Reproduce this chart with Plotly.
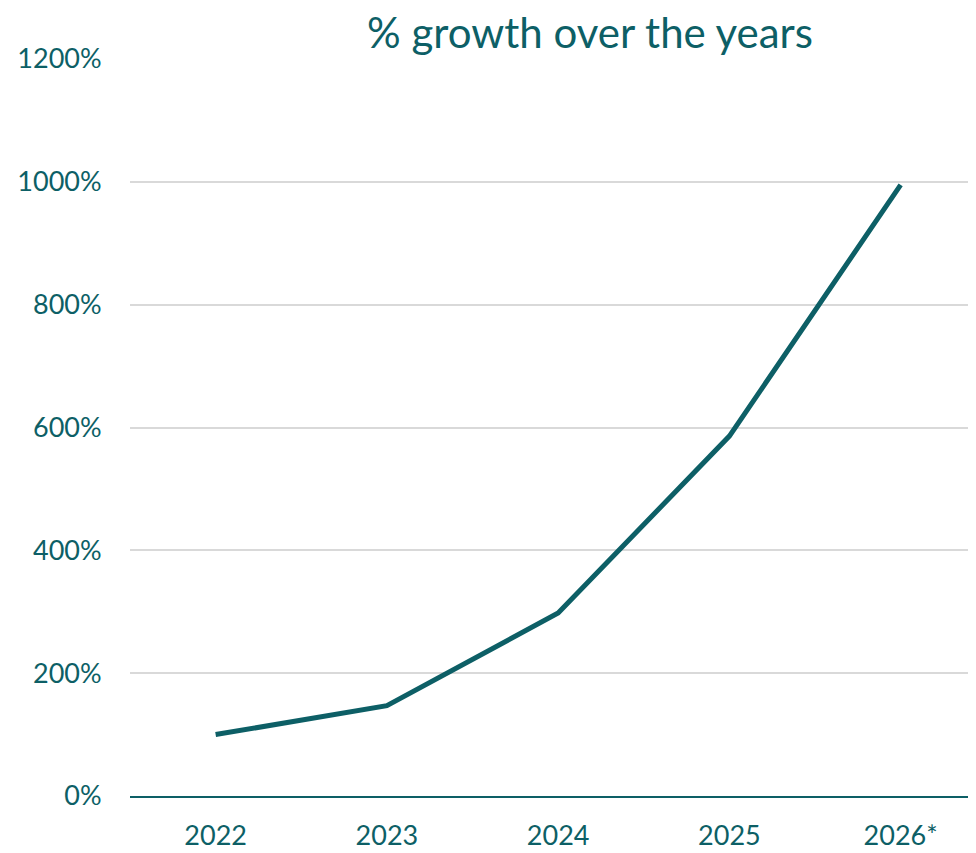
import plotly.graph_objects as go

years = ["2022", "2023", "2024", "2025", "2026*"]
growth = [100, 147, 298, 586, 995]
y_ticks = [0, 200, 400, 600, 800, 1000, 1200]
y_tick_labels = ["0%", "200%", "400%", "600%", "800%", "1000%", "1200%"]

teal = "#0d5f66"
grid = "#d9d9d9"
font_family = "Lato, 'Open Sans', sans-serif"

# page has an 8px body margin; figure sized to fill the rest of the window
W, H = 968, 845

fig = go.Figure()
fig.add_trace(go.Scatter(
    x=years, y=growth, mode="lines",
    line=dict(color=teal, width=5),
    hoverinfo="skip",
))

fig.update_layout(
    width=W, height=H,
    margin=dict(l=122, r=0, t=51, b=57),
    paper_bgcolor="white", plot_bgcolor="white",
    showlegend=False,
    font=dict(family=font_family, color=teal),
    title=dict(
        text="% growth over the years",
        x=582 / W, xanchor="center",
        y=1 - 25 / H, yanchor="middle",
        font=dict(size=42, color=teal, family=font_family),
    ),
)
fig.update_xaxes(
    type="category",
    range=[-0.5, 4.44],
    showgrid=False,
    showline=True, linecolor=teal, linewidth=2,
    ticks="outside", ticklen=15, tickcolor="rgba(0,0,0,0)",
    tickfont=dict(size=27, color=teal),
    fixedrange=True,
)
fig.update_yaxes(
    range=[0, 1200],
    tickvals=y_ticks, ticktext=y_tick_labels,
    showgrid=True, gridcolor=grid, gridwidth=1.5,
    zeroline=False,
    ticks="outside", ticklen=22, tickcolor="rgba(0,0,0,0)",
    tickfont=dict(size=27, color=teal),
    fixedrange=True,
)

fig.write_html("out.html")
